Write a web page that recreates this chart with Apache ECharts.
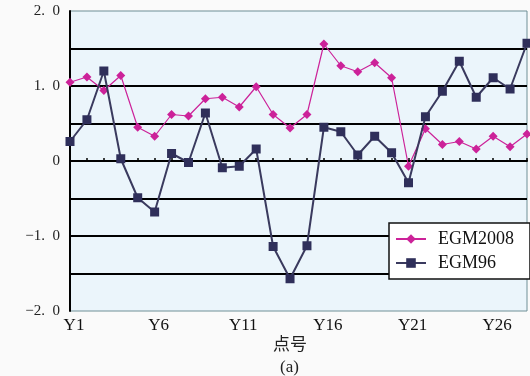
<!DOCTYPE html>
<html>
<head>
<meta charset="utf-8">
<script src="https://cdn.jsdelivr.net/npm/echarts@6/dist/echarts.min.js"></script>
<style>
  html, body { margin: 0; padding: 0; background: #fafafa; }
  #chart { width: 530px; height: 376px; }
</style>
</head>
<body>
<div id="chart"></div>
<script>
// Point labels Y1..Y28
const categories = ['Y1','Y2','Y3','Y4','Y5','Y6','Y7','Y8','Y9','Y10','Y11','Y12','Y13','Y14',
  'Y15','Y16','Y17','Y18','Y19','Y20','Y21','Y22','Y23','Y24','Y25','Y26','Y27','Y28'];

// Differences per point (m)
const egm2008 = [1.05, 1.12, 0.94, 1.14, 0.45, 0.33, 0.62, 0.60, 0.83, 0.85, 0.72, 0.99, 0.62, 0.44,
  0.62, 1.56, 1.27, 1.19, 1.31, 1.11, -0.07, 0.43, 0.22, 0.26, 0.16, 0.33, 0.19, 0.36];
const egm96 = [0.26, 0.55, 1.20, 0.03, -0.49, -0.68, 0.10, -0.02, 0.64, -0.09, -0.07, 0.16, -1.14, -1.57,
  -1.13, 0.45, 0.39, 0.08, 0.33, 0.11, -0.29, 0.59, 0.93, 1.33, 0.85, 1.11, 0.96, 1.57];

// Value-axis tick labels (only whole numbers are labelled)
const yTickValues = [-2, -1, 0, 1, 2];
const yTickLabels = ['\u22122.\u20020', '\u22121.\u20020', '0', '1.\u20020', '2.\u20020'];

const xAxisName = '点号';
const caption = '(a)';

const serif = '"Liberation Serif", "DejaVu Serif", serif';
const chart = echarts.init(document.getElementById('chart'), null, { renderer: 'canvas' });

chart.setOption({
  backgroundColor: '#fafafa',
  animation: false,
  grid: {
    left: 70, right: 3, top: 11, bottom: 65,
    show: true,
    backgroundColor: '#ebf5fb',
    borderColor: '#6f8f96',
    borderWidth: 1
  },
  legend: {
    orient: 'vertical',
    left: 389, top: 223,
    backgroundColor: '#ffffff',
    borderColor: '#111111',
    borderWidth: 1.5,
    padding: [7, 16, 7, 6],
    itemWidth: 30, itemHeight: 12, itemGap: 6,
    textStyle: { fontFamily: serif, fontSize: 18, color: '#111', padding: [0, 0, 0, 7] },
    data: ['EGM2008', 'EGM96']
  },
  xAxis: [
    {
      // axis line through zero with small upward ticks
      type: 'category', data: categories, boundaryGap: false,
      axisLine: { onZero: true, lineStyle: { color: '#000', width: 2 } },
      axisTick: { show: true, inside: true, length: 3, interval: 0, lineStyle: { color: '#000', width: 1.5 } },
      axisLabel: { show: false },
      splitLine: { show: false }
    },
    {
      // labels along the bottom edge
      type: 'category', data: categories, boundaryGap: false, position: 'bottom',
      axisLine: { show: false, onZero: false },
      axisTick: { show: false },
      axisLabel: {
        interval: 4, margin: 6, fontFamily: serif, fontSize: 17, color: '#111',
        padding: [0, 0, 0, 8]
      },
      splitLine: { show: false }
    }
  ],
  yAxis: {
    type: 'value', min: -2, max: 2, interval: 0.5,
    axisLine: { show: true, onZero: false, lineStyle: { color: '#000', width: 2 } },
    axisTick: { show: false },
    axisLabel: {
      margin: 10, fontFamily: serif, fontSize: 15, color: '#222',
      formatter: function (v) {
        const i = yTickValues.indexOf(v);
        return i >= 0 ? yTickLabels[i] : '';
      }
    },
    splitLine: {
      show: true, showMinLine: false, showMaxLine: false,
      lineStyle: { color: '#000', width: 2 }
    }
  },
  series: [
    {
      name: 'EGM2008', type: 'line', data: egm2008, xAxisIndex: 0,
      symbol: 'diamond', symbolSize: 9,
      itemStyle: { color: '#cc2299' },
      lineStyle: { color: '#cc2299', width: 1.2 },
      z: 3
    },
    {
      name: 'EGM96', type: 'line', data: egm96, xAxisIndex: 0,
      symbol: 'rect', symbolSize: 9,
      itemStyle: { color: '#2f2f5a' },
      lineStyle: { color: '#3a3a5e', width: 2 },
      z: 4
    }
  ],
  graphic: [
    {
      type: 'text', left: 273, top: 335,
      style: { text: xAxisName, fontFamily: '"Noto Sans CJK SC", sans-serif', fontSize: 17, fill: '#222' }
    },
    {
      type: 'text', left: 280, top: 359,
      style: { text: caption, fontFamily: serif, fontSize: 17, fill: '#222' }
    }
  ]
});
</script>
</body>
</html>
